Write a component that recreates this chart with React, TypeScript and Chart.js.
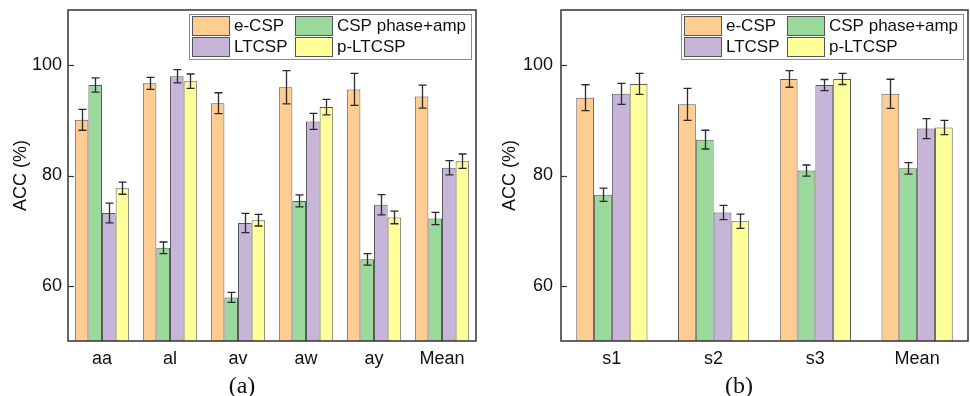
import React, { useEffect, useRef } from "react";
import { Chart, registerables } from "chart.js";

Chart.register(...registerables);

const seriesLabels = ["e-CSP", "CSP phase+amp", "LTCSP", "p-LTCSP"];
const seriesColors = ["#FFCC91", "#9BD89C", "#C6B4D9", "#FFFF99"];

// Panel (a)
const categoriesA = ["aa", "al", "av", "aw", "ay", "Mean"];
const eCspA = [90.1, 96.7, 93.1, 96.0, 95.6, 94.3];
const eCspErrA = [1.9, 1.1, 1.9, 3.0, 2.9, 2.1];
const cspPhaseA = [96.4, 66.9, 57.9, 75.4, 64.8, 72.2];
const cspPhaseErrA = [1.3, 1.05, 0.9, 1.1, 1.05, 1.1];
const ltcspA = [73.2, 98.0, 71.4, 89.8, 74.7, 81.4];
const ltcspErrA = [1.8, 1.2, 1.75, 1.45, 1.85, 1.3];
const pLtcspA = [77.7, 97.1, 71.9, 92.4, 72.4, 82.6];
const pLtcspErrA = [1.1, 1.3, 1.05, 1.4, 1.15, 1.3];

// Panel (b)
const categoriesB = ["s1", "s2", "s3", "Mean"];
const eCspB = [94.1, 92.9, 97.5, 94.8];
const eCspErrB = [2.35, 2.9, 1.5, 2.65];
const cspPhaseB = [76.5, 86.5, 80.9, 81.3];
const cspPhaseErrB = [1.2, 1.7, 1.0, 1.05];
const ltcspB = [94.8, 73.3, 96.4, 88.5];
const ltcspErrB = [1.9, 1.3, 1.0, 1.8];
const pLtcspB = [96.6, 71.7, 97.5, 88.7];
const pLtcspErrB = [1.9, 1.3, 1.0, 1.3];

const yTicks = [60, 80, 100];
const yMin = 50;
const yMax = 110;
const yTitle = "ACC (%)";

const SANS = "'Liberation Sans', Arial, sans-serif";
const FRAME = "#333333";

const framePlugin = {
  id: "frameTicks",
  afterDatasetsDraw(chart: any) {
    const { ctx, chartArea } = chart;
    const y = chart.scales.y;
    ctx.save();
    ctx.strokeStyle = FRAME;
    ctx.lineWidth = 1.5;
    ctx.strokeRect(chartArea.left, chartArea.top, chartArea.right - chartArea.left, chartArea.bottom - chartArea.top);
    ctx.lineWidth = 1.2;
    yTicks.forEach((v) => {
      const py = Math.round(y.getPixelForValue(v)) + 0.5;
      ctx.beginPath();
      ctx.moveTo(chartArea.left, py);
      ctx.lineTo(chartArea.left + 6, py);
      ctx.stroke();
    });
    ctx.restore();
  },
};

const errorBarPlugin = {
  id: "errorBars",
  afterDatasetsDraw(chart: any) {
    const { ctx } = chart;
    const y = chart.scales.y;
    ctx.save();
    ctx.strokeStyle = "#2a2a2a";
    ctx.lineWidth = 1.3;
    chart.data.datasets.forEach((ds: any, di: number) => {
      const meta = chart.getDatasetMeta(di);
      meta.data.forEach((el: any, i: number) => {
        const v = ds.data[i];
        const e = ds.errors[i];
        const x = Math.round(el.x) + 0.5;
        const top = y.getPixelForValue(v + e);
        const bot = y.getPixelForValue(v - e);
        ctx.beginPath();
        ctx.moveTo(x, top);
        ctx.lineTo(x, bot);
        ctx.moveTo(x - 4, top);
        ctx.lineTo(x + 4, top);
        ctx.moveTo(x - 4, bot);
        ctx.lineTo(x + 4, bot);
        ctx.stroke();
      });
    });
    ctx.restore();
  },
};

const legendPlugin = {
  id: "boxLegend",
  afterDraw(chart: any) {
    const { ctx, chartArea } = chart;
    const w = 282;
    const h = 45;
    const left = chartArea.right - 5 - w;
    const top = chartArea.top + 4;
    ctx.save();
    ctx.fillStyle = "#ffffff";
    ctx.fillRect(left, top, w, h);
    ctx.strokeStyle = "#8a8a8a";
    ctx.lineWidth = 1;
    ctx.strokeRect(left + 0.5, top + 0.5, w, h);
    ctx.font = `17px ${SANS}`;
    ctx.textBaseline = "middle";
    ctx.textAlign = "left";
    const colX = [left + 3, left + 106];
    const rowY = [top + 2, top + 23];
    chart.data.datasets.forEach((ds: any, i: number) => {
      const cx = colX[i % 2];
      const cy = rowY[Math.floor(i / 2)];
      ctx.fillStyle = ds.backgroundColor;
      ctx.fillRect(cx, cy, 37, 19);
      ctx.strokeStyle = "#555555";
      ctx.strokeRect(cx + 0.5, cy + 0.5, 37, 19);
      ctx.fillStyle = "#111111";
      ctx.fillText(ds.label, cx + 42, cy + 10.5);
    });
    ctx.restore();
  },
};

type PanelProps = {
  categories: string[];
  values: number[][];
  errors: number[][];
  left: number;
  yAxisWidth: number;
  padRight: number;
  titlePad: number;
  tickPad: number;
  catPct: number;
  caption: string;
  captionX: number;
};

function Panel(p: PanelProps) {
  const ref = useRef<HTMLCanvasElement | null>(null);
  useEffect(() => {
    if (!ref.current) return;
    const chart = new Chart(ref.current, {
      type: "bar",
      data: {
        labels: p.categories,
        datasets: seriesLabels.map((label, i) => ({
          label,
          data: p.values[i],
          errors: p.errors[i],
          backgroundColor: seriesColors[i],
          borderColor: "#5a5a5a",
          borderWidth: 1,
          borderSkipped: false,
          categoryPercentage: p.catPct,
          barPercentage: 1.0,
        })) as any,
      },
      options: {
        animation: false,
        responsive: false,
        maintainAspectRatio: false,
        layout: { padding: { top: 10, right: p.padRight, left: 0, bottom: 0 } },
        plugins: {
          legend: { display: false },
          tooltip: { enabled: false },
        },
        scales: {
          x: {
            grid: { display: false, drawTicks: false },
            border: { display: false },
            ticks: { font: { family: SANS, size: 18 }, color: "#111", padding: 7 },
            afterFit: (s: any) => {
              s.height = 55;
              s.paddingLeft = 0;
              s.paddingRight = 0;
            },
          },
          y: {
            min: yMin,
            max: yMax,
            grid: { display: false, drawTicks: false },
            border: { display: false },
            afterBuildTicks: (s: any) => {
              s.ticks = yTicks.map((v) => ({ value: v }));
            },
            ticks: { font: { family: SANS, size: 18 }, color: "#111", padding: p.tickPad },
            title: {
              display: true,
              text: yTitle,
              font: { family: SANS, size: 18 },
              color: "#111",
              padding: { top: p.titlePad, bottom: 0 },
            },
            afterFit: (s: any) => {
              s.width = p.yAxisWidth;
              s.paddingTop = 0;
              s.paddingBottom = 0;
            },
          },
        },
      },
      plugins: [framePlugin, errorBarPlugin, legendPlugin],
    });
    return () => chart.destroy();
  }, []);
  return (
    <>
      <canvas
        ref={ref}
        width={485}
        height={396}
        style={{ position: "absolute", left: p.left, top: 0, width: 485, height: 396 }}
      />
      <div
        style={{
          position: "absolute",
          left: p.captionX - 50,
          top: 373,
          width: 100,
          textAlign: "center",
          fontFamily: "'Liberation Serif', 'Times New Roman', serif",
          fontSize: 24,
          lineHeight: "24px",
          color: "#111",
        }}
      >
        {p.caption}
      </div>
    </>
  );
}

export default function App() {
  useEffect(() => {
    document.body.style.margin = "0";
  }, []);
  return (
    <div style={{ position: "absolute", left: 0, top: 0, width: 970, height: 396, background: "#fff", overflow: "hidden" }}>
      <Panel
        categories={categoriesA}
        values={[eCspA, cspPhaseA, ltcspA, pLtcspA]}
        errors={[eCspErrA, cspPhaseErrA, ltcspErrA, pLtcspErrA]}
        left={0}
        yAxisWidth={68}
        padRight={9}
        titlePad={10}
        tickPad={6}
        catPct={0.8}
        caption="(a)"
        captionX={242}
      />
      <Panel
        categories={categoriesB}
        values={[eCspB, cspPhaseB, ltcspB, pLtcspB]}
        errors={[eCspErrB, cspPhaseErrB, ltcspErrB, pLtcspErrB]}
        left={485}
        yAxisWidth={76}
        padRight={2}
        titlePad={14}
        tickPad={8}
        catPct={0.7}
        caption="(b)"
        captionX={739}
      />
    </div>
  );
}
